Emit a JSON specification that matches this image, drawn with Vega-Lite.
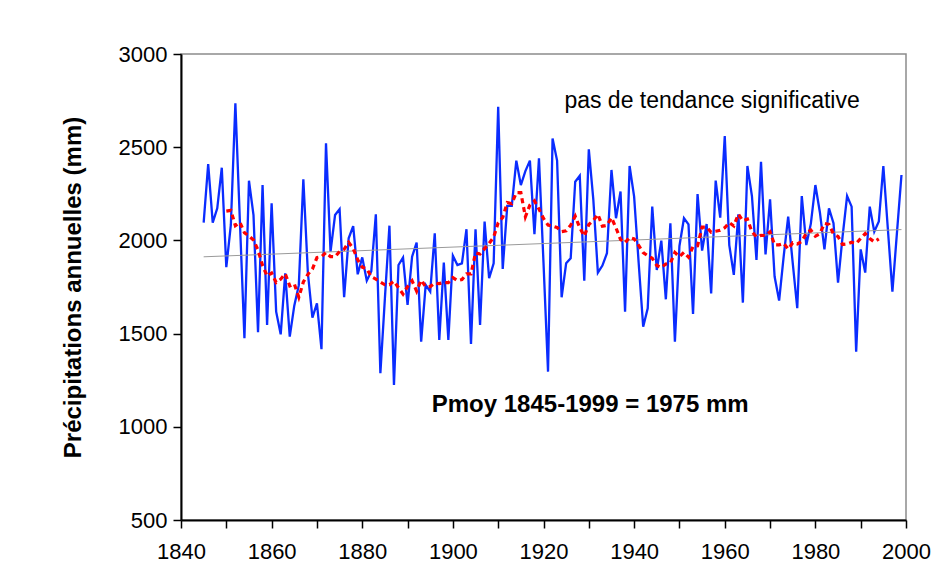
{
  "$schema": "https://vega.github.io/schema/vega-lite/v6.json",
  "width": 725,
  "height": 466,
  "autosize": {"type": "none"},
  "padding": {"left": 181, "top": 54, "right": 46, "bottom": 65},
  "background": "white",
  "config": {
    "font": "Liberation Sans",
    "view": {"stroke": "#8c8c8c", "strokeWidth": 1.5},
    "axis": {
      "labelFont": "Liberation Sans",
      "titleFont": "Liberation Sans",
      "labelColor": "black",
      "titleColor": "black",
      "domainColor": "black",
      "tickColor": "black",
      "domainWidth": 2,
      "tickWidth": 1.5,
      "grid": false
    }
  },
  "datasets": {
    "annual": [
      {"year": 1845, "precip": 2095}, {"year": 1846, "precip": 2410}, {"year": 1847, "precip": 2095}, {"year": 1848, "precip": 2172}, {"year": 1849, "precip": 2390},
      {"year": 1850, "precip": 1856}, {"year": 1851, "precip": 2083}, {"year": 1852, "precip": 2735}, {"year": 1853, "precip": 2100}, {"year": 1854, "precip": 1475},
      {"year": 1855, "precip": 2320}, {"year": 1856, "precip": 2136}, {"year": 1857, "precip": 1507}, {"year": 1858, "precip": 2297}, {"year": 1859, "precip": 1546},
      {"year": 1860, "precip": 2199}, {"year": 1861, "precip": 1618}, {"year": 1862, "precip": 1496}, {"year": 1863, "precip": 1823}, {"year": 1864, "precip": 1484},
      {"year": 1865, "precip": 1650}, {"year": 1866, "precip": 1760}, {"year": 1867, "precip": 2328}, {"year": 1868, "precip": 1825}, {"year": 1869, "precip": 1586},
      {"year": 1870, "precip": 1662}, {"year": 1871, "precip": 1416}, {"year": 1872, "precip": 2521}, {"year": 1873, "precip": 1940}, {"year": 1874, "precip": 2136},
      {"year": 1875, "precip": 2168}, {"year": 1876, "precip": 1695}, {"year": 1877, "precip": 2011}, {"year": 1878, "precip": 2077}, {"year": 1879, "precip": 1818},
      {"year": 1880, "precip": 1909}, {"year": 1881, "precip": 1784}, {"year": 1882, "precip": 1835}, {"year": 1883, "precip": 2140}, {"year": 1884, "precip": 1287},
      {"year": 1885, "precip": 1690}, {"year": 1886, "precip": 2079}, {"year": 1887, "precip": 1225}, {"year": 1888, "precip": 1868}, {"year": 1889, "precip": 1908},
      {"year": 1890, "precip": 1654}, {"year": 1891, "precip": 1913}, {"year": 1892, "precip": 1988}, {"year": 1893, "precip": 1457}, {"year": 1894, "precip": 1761},
      {"year": 1895, "precip": 1725}, {"year": 1896, "precip": 2038}, {"year": 1897, "precip": 1466}, {"year": 1898, "precip": 1881}, {"year": 1899, "precip": 1466},
      {"year": 1900, "precip": 1918}, {"year": 1901, "precip": 1868}, {"year": 1902, "precip": 1877}, {"year": 1903, "precip": 2060}, {"year": 1904, "precip": 1444},
      {"year": 1905, "precip": 2060}, {"year": 1906, "precip": 1546}, {"year": 1907, "precip": 2101}, {"year": 1908, "precip": 1797}, {"year": 1909, "precip": 1877},
      {"year": 1910, "precip": 2717}, {"year": 1911, "precip": 1847}, {"year": 1912, "precip": 2185}, {"year": 1913, "precip": 2185}, {"year": 1914, "precip": 2428},
      {"year": 1915, "precip": 2297}, {"year": 1916, "precip": 2372}, {"year": 1917, "precip": 2428}, {"year": 1918, "precip": 2034}, {"year": 1919, "precip": 2440},
      {"year": 1920, "precip": 1880}, {"year": 1921, "precip": 1296}, {"year": 1922, "precip": 2547}, {"year": 1923, "precip": 2428}, {"year": 1924, "precip": 1695},
      {"year": 1925, "precip": 1877}, {"year": 1926, "precip": 1904}, {"year": 1927, "precip": 2315}, {"year": 1928, "precip": 2347}, {"year": 1929, "precip": 1784},
      {"year": 1930, "precip": 2489}, {"year": 1931, "precip": 2217}, {"year": 1932, "precip": 1827}, {"year": 1933, "precip": 1865}, {"year": 1934, "precip": 1931},
      {"year": 1935, "precip": 2378}, {"year": 1936, "precip": 2119}, {"year": 1937, "precip": 2262}, {"year": 1938, "precip": 1618}, {"year": 1939, "precip": 2399},
      {"year": 1940, "precip": 2235}, {"year": 1941, "precip": 1880}, {"year": 1942, "precip": 1537}, {"year": 1943, "precip": 1636}, {"year": 1944, "precip": 2181},
      {"year": 1945, "precip": 1841}, {"year": 1946, "precip": 1999}, {"year": 1947, "precip": 1684}, {"year": 1948, "precip": 2092}, {"year": 1949, "precip": 1457},
      {"year": 1950, "precip": 1970}, {"year": 1951, "precip": 2119}, {"year": 1952, "precip": 2086}, {"year": 1953, "precip": 1605}, {"year": 1954, "precip": 2249},
      {"year": 1955, "precip": 1945}, {"year": 1956, "precip": 2088}, {"year": 1957, "precip": 1716}, {"year": 1958, "precip": 2321}, {"year": 1959, "precip": 2122},
      {"year": 1960, "precip": 2560}, {"year": 1961, "precip": 1975}, {"year": 1962, "precip": 1815}, {"year": 1963, "precip": 2140}, {"year": 1964, "precip": 1666},
      {"year": 1965, "precip": 2399}, {"year": 1966, "precip": 2238}, {"year": 1967, "precip": 1895}, {"year": 1968, "precip": 2422}, {"year": 1969, "precip": 1925},
      {"year": 1970, "precip": 2220}, {"year": 1971, "precip": 1806}, {"year": 1972, "precip": 1677}, {"year": 1973, "precip": 1913}, {"year": 1974, "precip": 2127},
      {"year": 1975, "precip": 1880}, {"year": 1976, "precip": 1636}, {"year": 1977, "precip": 2238}, {"year": 1978, "precip": 1975}, {"year": 1979, "precip": 2090},
      {"year": 1980, "precip": 2297}, {"year": 1981, "precip": 2150}, {"year": 1982, "precip": 1952}, {"year": 1983, "precip": 2172}, {"year": 1984, "precip": 2092},
      {"year": 1985, "precip": 1773}, {"year": 1986, "precip": 2020}, {"year": 1987, "precip": 2238}, {"year": 1988, "precip": 2181}, {"year": 1989, "precip": 1403},
      {"year": 1990, "precip": 1952}, {"year": 1991, "precip": 1827}, {"year": 1992, "precip": 2181}, {"year": 1993, "precip": 2047}, {"year": 1994, "precip": 2101},
      {"year": 1995, "precip": 2399}, {"year": 1996, "precip": 2060}, {"year": 1997, "precip": 1725}, {"year": 1998, "precip": 2040}, {"year": 1999, "precip": 2351}
    ],
    "movavg": [
      {"year": 1850, "mean": 2157}, {"year": 1851, "mean": 2161}, {"year": 1852, "mean": 2079}, {"year": 1853, "mean": 2097}, {"year": 1854, "mean": 2041},
      {"year": 1855, "mean": 2023}, {"year": 1856, "mean": 2002}, {"year": 1857, "mean": 1948}, {"year": 1858, "mean": 1865}, {"year": 1859, "mean": 1809},
      {"year": 1860, "mean": 1825}, {"year": 1861, "mean": 1774}, {"year": 1862, "mean": 1792}, {"year": 1863, "mean": 1821}, {"year": 1864, "mean": 1756},
      {"year": 1865, "mean": 1767}, {"year": 1866, "mean": 1695}, {"year": 1867, "mean": 1777}, {"year": 1868, "mean": 1818}, {"year": 1869, "mean": 1846},
      {"year": 1870, "mean": 1908}, {"year": 1871, "mean": 1913}, {"year": 1872, "mean": 1935}, {"year": 1873, "mean": 1913}, {"year": 1874, "mean": 1912},
      {"year": 1875, "mean": 1941}, {"year": 1876, "mean": 1952}, {"year": 1877, "mean": 1990}, {"year": 1878, "mean": 1956}, {"year": 1879, "mean": 1896},
      {"year": 1880, "mean": 1856}, {"year": 1881, "mean": 1848}, {"year": 1882, "mean": 1805}, {"year": 1883, "mean": 1792}, {"year": 1884, "mean": 1777},
      {"year": 1885, "mean": 1762}, {"year": 1886, "mean": 1762}, {"year": 1887, "mean": 1781}, {"year": 1888, "mean": 1746}, {"year": 1889, "mean": 1712},
      {"year": 1890, "mean": 1752}, {"year": 1891, "mean": 1783}, {"year": 1892, "mean": 1728}, {"year": 1893, "mean": 1787}, {"year": 1894, "mean": 1751},
      {"year": 1895, "mean": 1752}, {"year": 1896, "mean": 1771}, {"year": 1897, "mean": 1768}, {"year": 1898, "mean": 1774}, {"year": 1899, "mean": 1773},
      {"year": 1900, "mean": 1800}, {"year": 1901, "mean": 1784}, {"year": 1902, "mean": 1790}, {"year": 1903, "mean": 1820}, {"year": 1904, "mean": 1820},
      {"year": 1905, "mean": 1933}, {"year": 1906, "mean": 1927}, {"year": 1907, "mean": 1956}, {"year": 1908, "mean": 1984}, {"year": 1909, "mean": 2017},
      {"year": 1910, "mean": 2095}, {"year": 1911, "mean": 2123}, {"year": 1912, "mean": 2203}, {"year": 1913, "mean": 2197}, {"year": 1914, "mean": 2256},
      {"year": 1915, "mean": 2256}, {"year": 1916, "mean": 2127}, {"year": 1917, "mean": 2190}, {"year": 1918, "mean": 2212}, {"year": 1919, "mean": 2168},
      {"year": 1920, "mean": 2118}, {"year": 1921, "mean": 2082}, {"year": 1922, "mean": 2077}, {"year": 1923, "mean": 2069}, {"year": 1924, "mean": 2047},
      {"year": 1925, "mean": 2051}, {"year": 1926, "mean": 2082}, {"year": 1927, "mean": 2130}, {"year": 1928, "mean": 2068}, {"year": 1929, "mean": 2023},
      {"year": 1930, "mean": 2085}, {"year": 1931, "mean": 2107}, {"year": 1932, "mean": 2140}, {"year": 1933, "mean": 2076}, {"year": 1934, "mean": 2081},
      {"year": 1935, "mean": 2122}, {"year": 1936, "mean": 2067}, {"year": 1937, "mean": 2005}, {"year": 1938, "mean": 1987}, {"year": 1939, "mean": 2016},
      {"year": 1940, "mean": 2008}, {"year": 1941, "mean": 1973}, {"year": 1942, "mean": 1934}, {"year": 1943, "mean": 1918}, {"year": 1944, "mean": 1904},
      {"year": 1945, "mean": 1865}, {"year": 1946, "mean": 1854}, {"year": 1947, "mean": 1873}, {"year": 1948, "mean": 1879}, {"year": 1949, "mean": 1935},
      {"year": 1950, "mean": 1913}, {"year": 1951, "mean": 1936}, {"year": 1952, "mean": 1910}, {"year": 1953, "mean": 1968}, {"year": 1954, "mean": 1971},
      {"year": 1955, "mean": 2071}, {"year": 1956, "mean": 2072}, {"year": 1957, "mean": 2044}, {"year": 1958, "mean": 2049}, {"year": 1959, "mean": 2054},
      {"year": 1960, "mean": 2068}, {"year": 1961, "mean": 2095}, {"year": 1962, "mean": 2077}, {"year": 1963, "mean": 2141}, {"year": 1964, "mean": 2105},
      {"year": 1965, "mean": 2114}, {"year": 1966, "mean": 2046}, {"year": 1967, "mean": 2019}, {"year": 1968, "mean": 2027}, {"year": 1969, "mean": 2026},
      {"year": 1970, "mean": 2046}, {"year": 1971, "mean": 1976}, {"year": 1972, "mean": 1976}, {"year": 1973, "mean": 1984}, {"year": 1974, "mean": 1953},
      {"year": 1975, "mean": 1987}, {"year": 1976, "mean": 1981}, {"year": 1977, "mean": 1994}, {"year": 1978, "mean": 2039}, {"year": 1979, "mean": 2055},
      {"year": 1980, "mean": 2023}, {"year": 1981, "mean": 2036}, {"year": 1982, "mean": 2091}, {"year": 1983, "mean": 2086}, {"year": 1984, "mean": 2034},
      {"year": 1985, "mean": 2021}, {"year": 1986, "mean": 1978}, {"year": 1987, "mean": 1981}, {"year": 1988, "mean": 1990}, {"year": 1989, "mean": 1983},
      {"year": 1990, "mean": 2011}, {"year": 1991, "mean": 2037}, {"year": 1992, "mean": 2010}, {"year": 1993, "mean": 1992}, {"year": 1994, "mean": 2008}
    ],
    "trend": [
      {"year": 1845, "value": 1912},
      {"year": 1999, "value": 2058}
    ],
    "one": [{}]
  },
  "layer": [
    {
      "data": {"name": "annual"},
      "mark": {"type": "line", "color": "#0A2CFF", "strokeWidth": 2.3},
      "encoding": {
        "x": {
          "field": "year", "type": "quantitative",
          "scale": {"domain": [1840, 2000], "nice": false, "zero": false},
          "axis": {
            "title": null,
            "values": [1840, 1850, 1860, 1870, 1880, 1890, 1900, 1910, 1920, 1930, 1940, 1950, 1960, 1970, 1980, 1990, 2000],
            "format": "d",
            "labelExpr": "datum.value % 20 == 0 ? datum.label : ''",
            "labelFontSize": 22,
            "labelPadding": 13,
            "tickSize": 8,
            "labelFlush": false,
            "labelOverlap": false
          }
        },
        "y": {
          "field": "precip", "type": "quantitative",
          "scale": {"domain": [500, 3000], "nice": false, "zero": false},
          "axis": {
            "title": "Précipitations annuelles (mm)",
            "titleFontSize": 24,
            "titleFontWeight": "bold",
            "titlePadding": 33,
            "values": [500, 1000, 1500, 2000, 2500, 3000],
            "format": "d",
            "labelFontSize": 22,
            "labelPadding": 6,
            "tickSize": 8
          }
        }
      }
    },
    {
      "data": {"name": "trend"},
      "mark": {"type": "line", "color": "#9a9a9a", "strokeWidth": 1},
      "encoding": {
        "x": {"field": "year", "type": "quantitative"},
        "y": {"field": "value", "type": "quantitative"}
      }
    },
    {
      "data": {"name": "movavg"},
      "mark": {"type": "line", "color": "#FF0000", "strokeWidth": 3.2, "strokeDash": [5, 4]},
      "encoding": {
        "x": {"field": "year", "type": "quantitative"},
        "y": {"field": "mean", "type": "quantitative"}
      }
    },
    {
      "data": {"name": "one"},
      "mark": {"type": "text", "text": "pas de tendance significative", "fontSize": 23, "font": "Liberation Sans", "color": "black", "align": "center", "baseline": "middle"},
      "encoding": {
        "x": {"datum": 1957.2, "type": "quantitative"},
        "y": {"datum": 2748, "type": "quantitative"}
      }
    },
    {
      "data": {"name": "one"},
      "mark": {"type": "text", "text": "Pmoy 1845-1999 = 1975 mm", "fontSize": 24, "fontWeight": "bold", "font": "Liberation Sans", "color": "black", "align": "center", "baseline": "middle"},
      "encoding": {
        "x": {"datum": 1930.3, "type": "quantitative"},
        "y": {"datum": 1117, "type": "quantitative"}
      }
    }
  ]
}
